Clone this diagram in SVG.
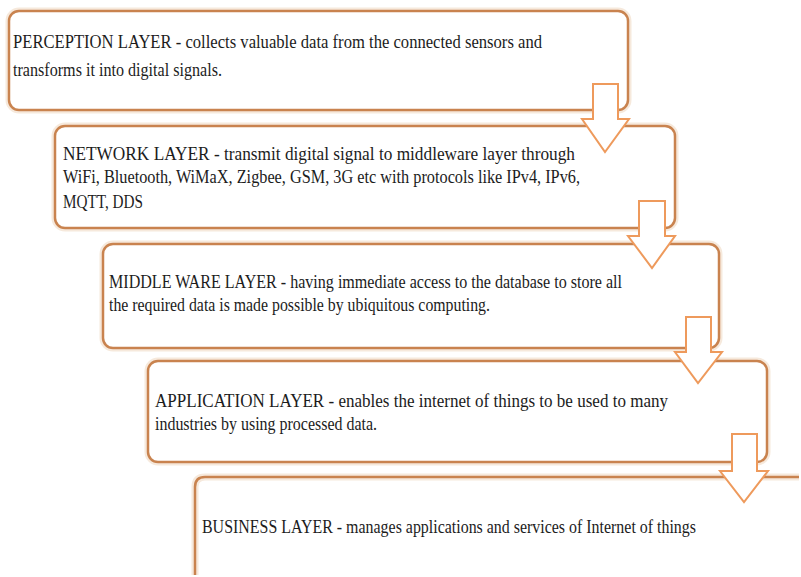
<svg xmlns="http://www.w3.org/2000/svg" width="801" height="577" viewBox="0 0 801 577">
<style>
.box{fill:#fff;stroke:#C9834F;stroke-width:2.5}
.open{fill:none;stroke:#C9834F;stroke-width:2.5}
.glow{fill:none;stroke:#F6E9DC;stroke-width:7}
.arr{fill:#fff;stroke:#EE9A5C;stroke-width:2;stroke-linejoin:miter}
.t{font-family:"Liberation Serif","Times New Roman",serif;font-size:19px;fill:#1c1c1c}
</style>
<rect width="801" height="577" fill="#fff"/>
<g id="perception">
<rect class="glow" x="9" y="11" width="619" height="99" rx="10"/>
<rect class="box" x="9" y="11" width="619" height="99" rx="10"/>
<text class="t" x="13" y="48" textLength="529" lengthAdjust="spacingAndGlyphs">PERCEPTION LAYER - collects valuable data from the connected sensors and</text>
<text class="t" x="13" y="76" textLength="209" lengthAdjust="spacingAndGlyphs">transforms it into digital signals.</text>
</g>
<g id="network">
<rect class="glow" x="55" y="126" width="620" height="102" rx="10"/>
<rect class="box" x="55" y="126" width="620" height="102" rx="10"/>
<text class="t" x="63" y="160" textLength="512" lengthAdjust="spacingAndGlyphs">NETWORK LAYER - transmit digital signal to middleware layer through</text>
<text class="t" x="63" y="183" textLength="517" lengthAdjust="spacingAndGlyphs">WiFi, Bluetooth, WiMaX, Zigbee, GSM, 3G etc with protocols like IPv4, IPv6,</text>
<text class="t" x="63" y="208" textLength="80" lengthAdjust="spacingAndGlyphs">MQTT, DDS</text>
</g>
<g id="middleware">
<rect class="glow" x="103" y="244" width="616" height="104" rx="10"/>
<rect class="box" x="103" y="244" width="616" height="104" rx="10"/>
<text class="t" x="109" y="288" textLength="513" lengthAdjust="spacingAndGlyphs">MIDDLE WARE LAYER - having immediate access to the database to store all</text>
<text class="t" x="109" y="311" textLength="381" lengthAdjust="spacingAndGlyphs">the required data is made possible by ubiquitous computing.</text>
</g>
<g id="application">
<rect class="glow" x="148" y="361" width="619" height="101" rx="10"/>
<rect class="box" x="148" y="361" width="619" height="101" rx="10"/>
<text class="t" x="155" y="407" textLength="513" lengthAdjust="spacingAndGlyphs">APPLICATION LAYER - enables the internet of things to be used to many</text>
<text class="t" x="155" y="430" textLength="222" lengthAdjust="spacingAndGlyphs">industries by using processed data.</text>
</g>
<g id="business">
<path class="glow" d="M195,575 V487 Q195,477 205,477 H799"/>
<path class="open" d="M195,575 V487 Q195,477 205,477 H799"/>
<text class="t" x="202" y="533" textLength="494" lengthAdjust="spacingAndGlyphs">BUSINESS LAYER - manages applications and services of Internet of things</text>
</g>
<g id="connectors">
<polygon class="arr" points="593,84 618,84 618,119 629,119 605,152 582,119 593,119"/>
<polygon class="arr" points="639,201 665,201 665,236 675,236 652,268 628,236 639,236"/>
<polygon class="arr" points="686,317 711,317 711,352 722,352 698,383 675,352 686,352"/>
<polygon class="arr" points="732,434 757,434 757,471 768,471 744,502 720,471 732,471"/>
</g>
</svg>
